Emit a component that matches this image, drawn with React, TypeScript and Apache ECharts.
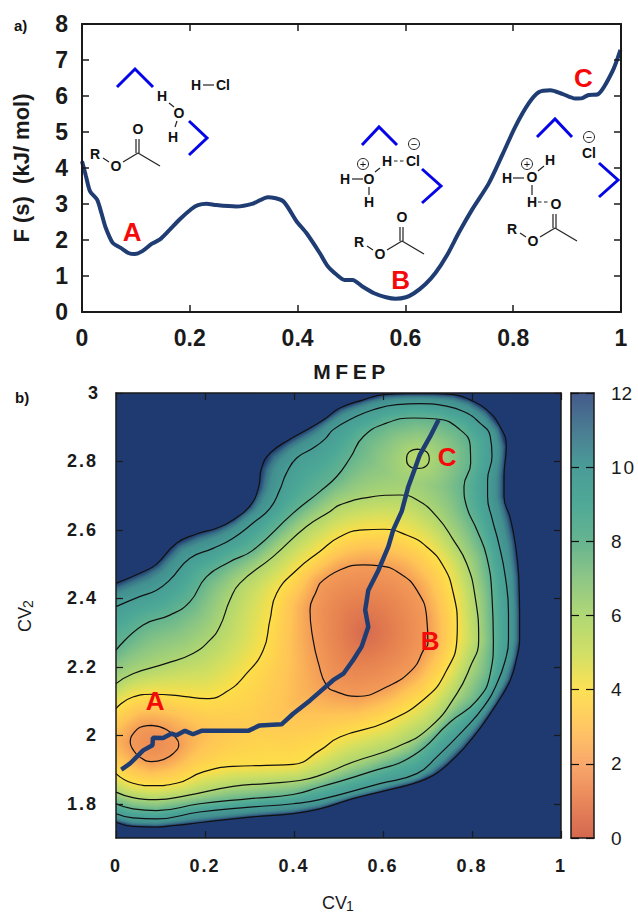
import React, { useEffect, useRef } from "react";
import * as echarts from "echarts";

// ---------- panel a: free energy along the MFEP ----------
const mfepS = [0,.0074,.015,.028,.036,.044,.057,.072,.086,.098,.112,.129,.144,.163,.181,.203,.215,.231,.249,.286,.317,.345,.373,.398,.416,.441,.456,.472,.487,.502,.521,.542,.564,.582,.601,.616,.637,.656,.678,.699,.724,.755,.780,.804,.829,.848,.869,.891,.915,.928,.940,.956,.984,.999];
const mfepF = [4.19,3.77,3.35,3.12,2.75,2.34,1.92,1.78,1.64,1.61,1.69,1.89,2.01,2.29,2.57,2.86,2.97,3.01,2.97,2.93,3.01,3.19,3.08,2.52,2.2,1.64,1.27,1.04,.89,.89,.70,.52,.41,.37,.41,.52,.77,1.09,1.60,2.20,2.85,3.58,4.37,5.15,5.80,6.11,6.16,6.06,5.93,5.94,6.03,6.04,6.68,7.28];
const stateLabelsA = [["A",.093,2.23],["B",.591,.90],["C",.930,6.50]];
const stateLabelsB = [["A",.088,2.10],["B",.706,2.275],["C",.744,2.814]];

// ---------- panel b: contours of the free-energy surface ----------
const contour12 = [[0,2.444],[.061,2.478],[.091,2.5],[.136,2.561],[.181,2.588],[.226,2.605],[.263,2.629],[.301,2.67],[.32,2.722],[.327,2.78],[.346,2.824],[.391,2.865],[.436,2.898],[.47,2.925],[.503,2.956],[.556,2.98],[.601,2.995],[.653,2.998],[.713,2.998],[.758,2.995],[.796,2.98],[.833,2.951],[.863,2.902],[.877,2.844],[.872,2.756],[.872,2.698],[.886,2.634],[.897,2.561],[.905,2.463],[.907,2.356],[.907,2.278],[.901,2.229],[.886,2.161],[.856,2.093],[.818,2.02],[.781,1.961],[.747,1.917],[.713,1.883],[.668,1.859],[.608,1.839],[.533,1.815],[.458,1.785],[.398,1.771],[.301,1.761],[.196,1.746],[.128,1.736],[.091,1.732],[.038,1.734],[0,1.746]];
const contour10 = [[0,2.376],[.053,2.405],[.091,2.424],[.121,2.454],[.166,2.517],[.218,2.546],[.263,2.576],[.308,2.62],[.346,2.663],[.368,2.717],[.383,2.766],[.406,2.81],[.443,2.839],[.47,2.866],[.488,2.893],[.533,2.927],[.578,2.951],[.631,2.966],[.683,2.969],[.736,2.963],[.781,2.946],[.818,2.912],[.841,2.873],[.845,2.815],[.835,2.746],[.835,2.698],[.845,2.634],[.86,2.561],[.875,2.463],[.882,2.356],[.882,2.278],[.875,2.22],[.856,2.151],[.826,2.083],[.781,2.015],[.721,1.937],[.676,1.888],[.593,1.859],[.458,1.812],[.398,1.8],[.301,1.79],[.188,1.776],[.091,1.756],[.038,1.759],[0,1.771]];
const contour8 = [[0,2.249],[.061,2.322],[.121,2.351],[.166,2.39],[.203,2.463],[.256,2.507],[.308,2.541],[.398,2.649],[.458,2.712],[.496,2.756],[.526,2.81],[.556,2.873],[.608,2.912],[.668,2.927],[.721,2.924],[.773,2.893],[.796,2.844],[.797,2.795],[.782,2.727],[.788,2.668],[.811,2.6],[.833,2.522],[.845,2.405],[.848,2.278],[.841,2.18],[.811,2.102],[.751,2.039],[.668,1.941],[.571,1.893],[.458,1.849],[.398,1.827],[.301,1.815],[.188,1.8],[.091,1.78],[.038,1.785],[0,1.8]];
const contour6 = [[0,2.151],[.038,2.18],[.113,2.21],[.173,2.239],[.211,2.278],[.233,2.317],[.256,2.395],[.278,2.444],[.353,2.522],[.428,2.61],[.481,2.654],[.503,2.673],[.571,2.696],[.638,2.702],[.676,2.688],[.721,2.639],[.758,2.571],[.788,2.502],[.807,2.405],[.815,2.278],[.796,2.2],[.766,2.122],[.706,2.024],[.631,1.966],[.533,1.922],[.458,1.883],[.413,1.868],[.338,1.859],[.263,1.851],[.158,1.824],[.091,1.812],[.038,1.818],[0,1.834]];
const contour4 = [[0,2.078],[.038,2.112],[.083,2.12],[.151,2.114],[.203,2.107],[.248,2.127],[.293,2.18],[.331,2.249],[.346,2.337],[.361,2.415],[.406,2.483],[.458,2.537],[.503,2.58],[.556,2.6],[.601,2.602],[.653,2.585],[.698,2.551],[.736,2.493],[.758,2.415],[.767,2.317],[.766,2.278],[.743,2.19],[.698,2.112],[.608,2.039],[.503,1.995],[.458,1.956],[.398,1.915],[.338,1.912],[.263,1.909],[.196,1.893],[.136,1.86],[.083,1.853],[.038,1.86],[0,1.888]];
const ring2B = [[.458,2.444],[.503,2.483],[.556,2.498],[.593,2.495],[.638,2.473],[.676,2.424],[.698,2.346],[.701,2.268],[.691,2.249],[.668,2.195],[.608,2.141],[.541,2.114],[.496,2.127],[.473,2.146],[.455,2.21],[.443,2.278],[.436,2.366],[.451,2.424],[.458,2.444]];
const ring2A = [[.08,2.029],[.113,2.017],[.136,1.99],[.141,1.974],[.128,1.946],[.106,1.929],[.08,1.923],[.053,1.937],[.037,1.961],[.032,1.98],[.042,2.01],[.061,2.026],[.08,2.029]];
const ring6C = [[.678,2.836],[.697,2.829],[.704,2.808],[.697,2.787],[.678,2.78],[.659,2.787],[.653,2.808],[.659,2.828],[.678,2.836]];
// deepest point inside each closed ring: x, y, value
const wellA = [.088,1.975,1.4];
const wellB = [.56,2.30,.1];
const wellC = [.678,2.808,5.6];
const pathCV1 = [.012,.031,.061,.082,.083,.106,.125,.136,.155,.173,.192,.297,.323,.372,.398,.436,.458,.488,.511,.533,.552,.567,.56,.567,.59,.612,.623,.642,.657,.672,.683,.706,.725];
const pathCV2 = [1.9,1.917,1.956,1.971,1.993,1.992,2.005,2,2.013,2.003,2.013,2.013,2.029,2.032,2.063,2.102,2.127,2.161,2.18,2.22,2.259,2.317,2.366,2.424,2.483,2.551,2.6,2.654,2.727,2.78,2.82,2.873,2.922];

// ---------- colour scale ----------
const scaleValues = [0,1,2,3,4,5,6,7,8,9,10,11,11.5,12];
const scaleColors = ["#d4674f","#e5804f","#f39a58","#ffc456","#fddf48","#d2df60","#aed671","#8cc683","#62b38f","#4ca896","#479c95","#42908f","#3a7488","#1f3a70"];
const barValues = [0,1,2,3,4,5,6,7,8,9,10,11,12];
const barColors = ["#d4674f","#e8875a","#f9a86c","#ffc763","#fde156","#d0df66","#b0d875","#8ec686","#66b490","#4fa996","#4a9c98","#4a7c92","#445a8c"];
const OUTSIDE = "#1f3a70";

const FONT = "Liberation Sans";
const INK = "#1a1a1a";
const CURVE = "#1f3d73";

const GA = { left: 82, top: 24, w: 539, h: 288 };
const GB = { left: 116, top: 393, w: 445, h: 445 };
const GC = { left: 571, top: 393, w: 23, h: 445 };

function hexRgb(h: string) { return [1, 3, 5].map((i) => parseInt(h.slice(i, i + 2), 16)); }

function colourFor(v: number) {
  const t = Math.max(0, Math.min(12, v));
  let i = 0;
  while (i < scaleValues.length - 2 && t > scaleValues[i + 1]) i++;
  const f = (t - scaleValues[i]) / (scaleValues[i + 1] - scaleValues[i]);
  const a = hexRgb(scaleColors[i]); const b = hexRgb(scaleColors[i + 1]);
  return [0, 1, 2].map((k) => a[k] + (b[k] - a[k]) * f);
}

function shadeSurface() {
  const W = GB.w, H = GB.h;
  const toPx = (p: number[]) => [p[0] * W, ((3 - p[1]) / 1.3) * H];
  const set = (l: number[][][]) => l.map((c) => c.map(toPx));
  const levels: [number, number[][][]][] = [
    [2, set([ring2A, ring2B])], [4, set([contour4])], [6, set([contour6, ring6C])],
    [8, set([contour8])], [10, set([contour10])], [12, set([contour12])],
  ];
  const rings: [number[][], number[], number][] = [
    [ring2A.map(toPx), wellA, 2], [ring2B.map(toPx), wellB, 2], [ring6C.map(toPx), wellC, 6],
  ];
  const inside = (x: number, y: number, poly: number[][]) => {
    let c = false;
    for (let i = 0, j = poly.length - 1; i < poly.length; j = i++) {
      const a = poly[i], b = poly[j];
      if ((a[1] > y) !== (b[1] > y) && x < ((b[0] - a[0]) * (y - a[1])) / (b[1] - a[1]) + a[0]) c = !c;
    }
    return c;
  };
  const dist = (x: number, y: number, group: number[][][]) => {
    let best = 1e12;
    for (const line of group) for (let i = 1; i < line.length; i++) {
      const a = line[i - 1], b = line[i];
      const dx = b[0] - a[0], dy = b[1] - a[1];
      const len = dx * dx + dy * dy || 1;
      const t = Math.max(0, Math.min(1, ((x - a[0]) * dx + (y - a[1]) * dy) / len));
      const ex = a[0] + t * dx - x, ey = a[1] + t * dy - y;
      const d = ex * ex + ey * ey;
      if (d < best) best = d;
    }
    return Math.sqrt(best);
  };
  const cv = document.createElement("canvas");
  cv.width = W; cv.height = H;
  const ctx = cv.getContext("2d")!;
  const img = ctx.createImageData(W, H);
  const out = hexRgb(OUTSIDE);
  for (let j = 0; j < H; j++) for (let i = 0; i < W; i++) {
    const x = i + 0.5, y = j + 0.5;
    let rgb = out;
    let done = false;
    for (const [ring, well, top] of rings) {
      if (inside(x, y, ring)) {
        const w = toPx(well);
        const dw = Math.hypot(x - w[0], y - w[1]);
        const dr = dist(x, y, [ring]);
        rgb = colourFor(well[2] + ((top - well[2]) * dw) / (dw + dr));
        done = true; break;
      }
    }
    if (!done) for (let k = 1; k < levels.length; k++) {
      const [lv, group] = levels[k];
      if (group.some((p) => inside(x, y, p))) {
        const dOut = dist(x, y, group);
        const dIn = dist(x, y, levels[k - 1][1]);
        rgb = colourFor(lv - 2 + (2 * dIn) / (dIn + dOut));
        break;
      }
    }
    const o = (j * W + i) * 4;
    img.data[o] = rgb[0]; img.data[o + 1] = rgb[1]; img.data[o + 2] = rgb[2]; img.data[o + 3] = 255;
  }
  ctx.putImageData(img, 0, 0);
  return cv.toDataURL("image/png");
}

// ---------- hand-drawn molecules ----------
function label(text: string, x: number, y: number, size = 14) {
  return { type: "text", x, y, silent: true, style: { text, x: 0, y: 0, fill: "#111", fontFamily: FONT, fontWeight: "bold", fontSize: size, align: "center", verticalAlign: "middle", textAlign: "center", textVerticalAlign: "middle" } };
}
function bond(x1: number, y1: number, x2: number, y2: number, dashed = false) {
  return { type: "line", silent: true, shape: { x1, y1, x2, y2 }, style: { stroke: "#222", lineWidth: 1.2, lineDash: dashed ? [3.5, 2.5] : undefined } };
}
function caret(points: number[][]) {
  return { type: "polyline", silent: true, shape: { points }, style: { stroke: "#0505e8", lineWidth: 3, fill: "none" } };
}
function charge(sign: string, x: number, y: number) {
  return [
    { type: "circle", silent: true, shape: { cx: x, cy: y, r: 5.5 }, style: { stroke: "#222", lineWidth: 1, fill: "none" } },
    { type: "text", x, y, silent: true, style: { text: sign, x: 0, y: 0, fill: "#111", fontFamily: FONT, fontSize: 11, align: "center", verticalAlign: "middle", textAlign: "center", textVerticalAlign: "middle" } },
  ];
}
function acetate(ox: number, oy: number, withTopO = true) {
  return [
    ...(withTopO ? [label("O", ox, oy)] : []),
    bond(ox - 2, oy + 10, ox - 2, oy + 24), bond(ox + 1, oy + 10, ox + 1, oy + 24),
    bond(ox, oy + 24, ox + 22, oy + 37),
    bond(ox, oy + 24, ox - 15, oy + 33),
    label("O", ox - 22, oy + 37),
    bond(ox - 35, oy + 29, ox - 29, oy + 33),
    label("R", ox - 43, oy + 25),
  ];
}
function molecules() {
  return [
    caret([[117, 87], [135, 69], [153, 87]]), caret([[189, 121], [207, 138], [189, 155]]),
    label("H", 162, 96), label("O", 179, 113), label("H", 173, 137), label("H", 196, 85), label("Cl", 223, 85),
    bond(169, 103, 174, 107), bond(177, 121, 175, 127), bond(203, 85, 214, 85),
    ...acetate(138, 129),

    caret([[362, 145], [379, 127], [397, 145]]), caret([[422, 169], [441, 186], [422, 203]]),
    ...charge("−", 414, 144), label("Cl", 413, 161), label("H", 387, 161), bond(394, 161, 405, 161, true),
    ...charge("+", 363, 164), label("O", 369, 179), label("H", 345, 179), label("H", 369, 202),
    bond(352, 179, 363, 179), bond(369, 187, 369, 195), bond(375, 172, 380, 168),
    ...acetate(402, 217),

    caret([[537, 137], [555, 119], [572, 137]]), caret([[599, 163], [618, 180], [599, 197]]),
    ...charge("−", 589, 137), label("Cl", 589, 153),
    ...charge("+", 527, 164), label("O", 532, 177), label("H", 507, 178), label("H", 550, 160), label("H", 532, 202), label("O", 556, 204),
    bond(513, 178, 524, 178), bond(538, 171, 544, 166), bond(532, 185, 532, 195), bond(538, 202, 549, 202, true),
    ...acetate(555, 204, false),

    { type: "text", x: 14, y: 25, silent: true, style: { text: "a)", x: 0, y: 0, fill: "#111", fontFamily: FONT, fontWeight: "bold", fontSize: 15, align: "left", verticalAlign: "middle", textAlign: "left", textVerticalAlign: "middle" } },
    { type: "text", x: 15, y: 397, silent: true, style: { text: "b)", x: 0, y: 0, fill: "#111", fontFamily: FONT, fontWeight: "bold", fontSize: 15, align: "left", verticalAlign: "middle", textAlign: "left", textVerticalAlign: "middle" } },
  ];
}

// ---------- axis helpers ----------
const yTicksB = [1.8, 2, 2.2, 2.4, 2.6, 2.8, 3];
const frameLine = (width: number, color = INK) => ({ show: true, onZero: false, lineStyle: { color, width } });

function stateSeries(labels: any[], xi: number, yi: number) {
  return {
    type: "scatter", xAxisIndex: xi, yAxisIndex: yi, symbolSize: 1, z: 8,
    itemStyle: { color: "transparent" },
    data: labels.map((l) => ({ name: l[0], value: [l[1], l[2]] })),
    label: { show: true, position: "inside", formatter: "{b}", color: "#f50a0a", fontFamily: FONT, fontWeight: "bold", fontSize: 26, opacity: 1 },
    emphasis: { disabled: true },
  };
}
function contourSeries(points: number[][]) {
  return {
    type: "line", xAxisIndex: 2, yAxisIndex: 2, z: 5, data: points, showSymbol: false, symbol: "none", smooth: 0.5,
    lineStyle: { color: "#111", width: 1.2 }, silent: true,
  };
}

export default function App() {
  const ref = useRef<HTMLDivElement>(null);
  useEffect(() => {
    const el = ref.current!;
    const chart = echarts.init(el, undefined, { renderer: "svg" });
    const surface = shadeSurface();
    const stopsFor = barValues.map((v, i) => ({ offset: 1 - v / 12, color: barColors[i] })).reverse();
    const tickA = { fontFamily: FONT, fontWeight: "bold", fontSize: 23, color: INK };
    const tickB = { fontFamily: FONT, fontWeight: "bold", fontSize: 18, color: INK };
    const subStyle = { fontFamily: FONT, fontSize: 14, color: INK, verticalAlign: "bottom", padding: [6, 0, 0, 0] };
    chart.setOption({
      animation: false,
      backgroundColor: "#fff",
      textStyle: { fontFamily: FONT },
      grid: [
        { left: GA.left, top: GA.top, width: GA.w, height: GA.h, outerBoundsMode: "none" },
        { left: GB.left, top: GB.top, width: GB.w, height: GB.h, outerBoundsMode: "none" },
        { left: GC.left, top: GC.top, width: GC.w, height: GC.h, outerBoundsMode: "none" },
      ],
      xAxis: [
        { gridIndex: 0, type: "value", min: 0, max: 1, interval: 0.2, position: "bottom", z: 10, axisLine: frameLine(2), axisTick: { inside: true, length: 7, lineStyle: { color: INK, width: 1.5 } }, splitLine: { show: false }, axisLabel: { ...tickA, margin: 14 }, name: "MFEP", nameLocation: "middle", nameGap: 49, nameTextStyle: { fontFamily: FONT, fontWeight: "bold", fontSize: 21, color: INK } },
        { gridIndex: 0, type: "value", min: 0, max: 1, interval: 0.2, position: "top", z: 10, axisLine: frameLine(2), axisTick: { inside: true, length: 7, lineStyle: { color: INK, width: 1.5 } }, splitLine: { show: false }, axisLabel: { show: false } },
        { gridIndex: 1, type: "value", min: 0, max: 1, interval: 0.2, position: "bottom", z: 10, axisLine: frameLine(1.5), axisTick: { inside: true, length: 7, lineStyle: { color: INK, width: 1.2 } }, splitLine: { show: false }, axisLabel: { ...tickB, margin: 19 }, name: "CV{s|1}", nameLocation: "middle", nameGap: 55, nameTextStyle: { fontFamily: FONT, fontSize: 18, color: INK, rich: { s: subStyle } } },
        { gridIndex: 1, type: "value", min: 0, max: 1, interval: 0.2, position: "top", z: 10, axisLine: frameLine(1.5), axisTick: { inside: true, length: 7, lineStyle: { color: INK, width: 1.2 } }, splitLine: { show: false }, axisLabel: { show: false } },
        { gridIndex: 2, type: "value", min: 0, max: 1, position: "bottom", z: 10, axisLine: frameLine(1.5), axisTick: { show: false }, splitLine: { show: false }, axisLabel: { show: false } },
        { gridIndex: 2, type: "value", min: 0, max: 1, position: "top", z: 10, axisLine: frameLine(1.5), axisTick: { show: false }, splitLine: { show: false }, axisLabel: { show: false } },
      ],
      yAxis: [
        { gridIndex: 0, type: "value", min: 0, max: 8, interval: 1, position: "left", z: 10, axisLine: frameLine(2), axisTick: { inside: true, length: 7, lineStyle: { color: INK, width: 1.5 } }, splitLine: { show: false }, axisLabel: { ...tickA, margin: 14 }, name: "F (s)  (kJ/ mol)", nameLocation: "middle", nameGap: 50, nameTextStyle: { fontFamily: FONT, fontWeight: "bold", fontSize: 22, color: INK } },
        { gridIndex: 0, type: "value", min: 0, max: 8, interval: 1, position: "right", z: 10, axisLine: frameLine(2), axisTick: { inside: true, length: 7, lineStyle: { color: INK, width: 1.5 } }, splitLine: { show: false }, axisLabel: { show: false } },
        { gridIndex: 1, type: "value", min: 1.7, max: 3, position: "left", z: 10, axisLine: frameLine(1.5), axisTick: { inside: true, length: 7, customValues: yTicksB, lineStyle: { color: INK, width: 1.2 } }, splitLine: { show: false }, axisLabel: { ...tickB, margin: 18, customValues: yTicksB }, name: "CV{s|2}", nameLocation: "middle", nameGap: 81, nameTextStyle: { fontFamily: FONT, fontSize: 18, color: INK, rich: { s: subStyle } } },
        { gridIndex: 1, type: "value", min: 1.7, max: 3, position: "right", z: 10, axisLine: frameLine(1.5), axisTick: { inside: true, length: 7, customValues: yTicksB, lineStyle: { color: INK, width: 1.2 } }, splitLine: { show: false }, axisLabel: { show: false } },
        { gridIndex: 2, type: "value", min: 0, max: 12, interval: 2, position: "left", z: 10, axisLine: frameLine(1.5), axisTick: { inside: true, length: 8, lineStyle: { color: "#111", width: 1.2 } }, splitLine: { show: false }, axisLabel: { show: false } },
        { gridIndex: 2, type: "value", min: 0, max: 12, interval: 2, position: "right", z: 10, axisLine: frameLine(1.5), axisTick: { inside: true, length: 8, lineStyle: { color: "#111", width: 1.2 } }, splitLine: { show: false }, axisLabel: { ...tickB, fontSize: 19, fontWeight: "normal", margin: 17 } },
      ],
      series: [
        { type: "line", xAxisIndex: 0, yAxisIndex: 0, z: 5, data: mfepS.map((s, i) => [s, mfepF[i]]), showSymbol: false, symbol: "none", smooth: 0.25, lineStyle: { color: CURVE, width: 4 }, clip: false },
        stateSeries(stateLabelsA, 0, 0),
        {
          type: "custom", xAxisIndex: 2, yAxisIndex: 2, z: 1, silent: true, data: [[0, 1.7]],
          renderItem: (_p: any, api: any) => {
            const a = api.coord([0, 3]); const b = api.coord([1, 1.7]);
            return { type: "image", style: { image: surface, x: a[0], y: a[1], width: b[0] - a[0], height: b[1] - a[1] } };
          },
        },
        contourSeries(contour12), contourSeries(contour10), contourSeries(contour8), contourSeries(contour6), contourSeries(contour4),
        contourSeries(ring2B), contourSeries(ring2A), contourSeries(ring6C),
        { type: "line", xAxisIndex: 2, yAxisIndex: 2, z: 6, data: pathCV1.map((s, i) => [s, pathCV2[i]]), showSymbol: false, symbol: "none", lineStyle: { color: CURVE, width: 4.5 }, silent: true },
        stateSeries(stateLabelsB, 2, 2),
        {
          type: "custom", xAxisIndex: 4, yAxisIndex: 4, z: 1, silent: true, data: [[0, 0]],
          renderItem: (_p: any, api: any) => {
            const a = api.coord([0, 12]); const b = api.coord([1, 0]);
            return { type: "rect", shape: { x: a[0], y: a[1], width: b[0] - a[0], height: b[1] - a[1] }, style: { fill: new echarts.graphic.LinearGradient(0, 0, 0, 1, stopsFor) } };
          },
        },
      ],
      graphic: { elements: molecules() },
    });
    // The figure's lower tick labels and the MFEP title are letter-spaced.
    el.querySelectorAll("text").forEach((t: any) => {
      const box = t.getBoundingClientRect();
      if (t.textContent === "MFEP") t.style.letterSpacing = "4.5px";
      else if (box.top > 385 && /^[\d.]+$/.test(t.textContent || "")) t.style.letterSpacing = "2px";
    });
    return () => chart.dispose();
  }, []);
  return <div ref={ref} style={{ position: "absolute", left: 0, top: 0, width: 638, height: 914 }} />;
}
